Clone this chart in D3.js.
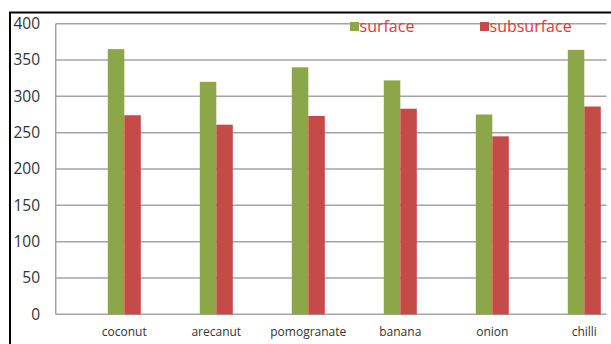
<!DOCTYPE html>
<html>
<head>
<meta charset="utf-8">
<script src="https://cdn.jsdelivr.net/npm/d3@7"></script>
<style>
  body { margin: 0; background: #fff; }
  text { font-family: "Open Sans", sans-serif; }
</style>
</head>
<body>
<script>
// ==================== Data ============================
const categories = ['coconut', 'arecanut', 'pomogranate', 'banana', 'onion', 'chilli'];
const surface    = [365, 320, 340, 322, 275, 364];
const subsurface = [274, 261, 273, 283, 245, 286];
const seriesNames = ['surface', 'subsurface'];
const yTicks = [0, 50, 100, 150, 200, 250, 300, 350, 400];

// ==================== Set up Variables ============================
const width = 611, height = 344;
const plotLeft = 55.7, plotRight = 606.5;
const colors = {surface: '#8ba748', subsurface: '#c44b48'};

const svg = d3.select('body')
  .append('svg')
    .attr('width', width)
    .attr('height', height);

// Scales
const y = d3.scaleLinear().domain([0, 400]).range([314.3, 23.7]);
const x = d3.scaleBand().domain(categories).range([78.3, 630.3]);
const xSeries = d3.scaleBand().domain(seriesNames).range([x.bandwidth() / 2 - 16.5, x.bandwidth() / 2 + 16.5]);

// Outer frame (left and top edges only visible)
svg.append('path')
    .attr('d', `M10,${height} V12.5 H${width}`)
    .attr('fill', 'none')
    .attr('stroke', '#000')
    .attr('stroke-width', 2);

// Gridlines
svg.append('g')
  .selectAll('line')
  .data(yTicks)
  .enter()
  .append('line')
    .attr('x1', plotLeft)
    .attr('x2', plotRight)
    .attr('y1', d => y(d))
    .attr('y2', d => y(d))
    .attr('stroke', '#a3a3a3')
    .attr('stroke-width', 1.5);

// Vertical axis line
svg.append('line')
    .attr('x1', plotLeft).attr('x2', plotLeft)
    .attr('y1', y(400)).attr('y2', y(0))
    .attr('stroke', '#a3a3a3')
    .attr('stroke-width', 1.5);

// Y tick labels
svg.append('g')
  .selectAll('text')
  .data(yTicks)
  .enter()
  .append('text')
    .attr('x', 40)
    .attr('y', d => y(d))
    .attr('dy', '.35em')
    .attr('text-anchor', 'end')
    .style('font-size', '15.5px')
    .style('fill', '#333')
    .text(d => d);

// Bars
const rows = categories.map((c, i) => ({cat: c, surface: surface[i], subsurface: subsurface[i]}));
const groups = svg.append('g')
  .selectAll('g')
  .data(rows)
  .enter()
  .append('g')
    .attr('transform', d => `translate(${x(d.cat)},0)`);

groups.selectAll('rect')
  .data(d => seriesNames.map(s => ({key: s, value: d[s]})))
  .enter()
  .append('rect')
    .attr('x', d => xSeries(d.key))
    .attr('width', xSeries.bandwidth())
    .attr('y', d => y(d.value))
    .attr('height', d => y(0) - y(d.value))
    .attr('fill', d => colors[d.key]);

// Category labels
svg.append('g')
  .selectAll('text')
  .data(categories)
  .enter()
  .append('text')
    .attr('x', d => x(d) + x.bandwidth() / 2)
    .attr('y', 332)
    .attr('dy', '.35em')
    .attr('text-anchor', 'middle')
    .style('font-size', '12px')
    .style('fill', '#333')
    .text(d => d);

// Legend
const legendX = [350, 480];
const legend = svg.append('g')
  .selectAll('g')
  .data(seriesNames)
  .enter()
  .append('g')
    .attr('transform', (d, i) => `translate(${legendX[i]},26.5)`);

legend.append('rect')
    .attr('x', 0).attr('y', -4.5)
    .attr('width', 9).attr('height', 9)
    .attr('fill', d => colors[d]);

legend.append('text')
    .attr('x', 9.5)
    .attr('dy', '.35em')
    .style('font-size', '16px')
    .style('fill', '#e8323c')
    .text(d => d);
</script>
</body>
</html>
